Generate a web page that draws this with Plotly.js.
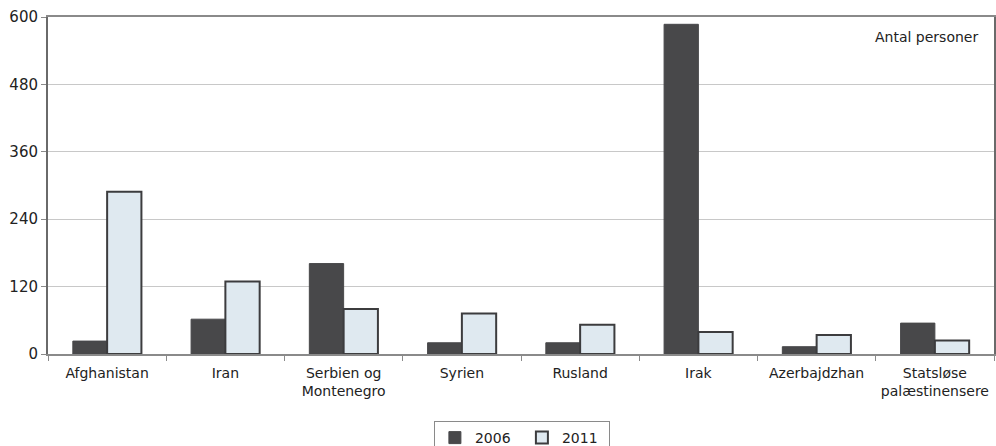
<!DOCTYPE html>
<html>
<head>
<meta charset="utf-8">
<script src="https://cdn.plot.ly/plotly-3.0.1.min.js"></script>
<style>html,body{margin:0;padding:0;background:#fff;}#chart{width:996px;height:446px;}</style>
</head>
<body>
<div id="chart"></div>
<script>
const categories = ["Afghanistan", "Iran", "Serbien og<br>Montenegro", "Syrien", "Rusland", "Irak", "Azerbajdzhan", "Statsløse<br>palæstinensere"];
const values2006 = [23, 62, 161, 20, 20, 587, 13, 55];
const values2011 = [289, 129, 80, 72, 52, 39, 34, 24];
const yTicks = [0, 120, 240, 360, 480, 600];

const FONT = "DejaVu Sans, Verdana, sans-serif";

const traces = [
  {type: "bar", name: "2006", x: categories, y: values2006,
   marker: {color: "#48484a", line: {color: "#48484a", width: 1}}},
  {type: "bar", name: "2011", x: categories, y: values2011,
   marker: {color: "#dfe9f0", line: {color: "#3c3c3e", width: 2}}}
];

const layout = {
  width: 996, height: 446,
  margin: {l: 48, r: 2, t: 17, b: 92, autoexpand: false},
  paper_bgcolor: "#fff", plot_bgcolor: "#fff",
  font: {family: FONT, size: 14, color: "#222"},
  bargap: 0.42, bargroupgap: 0,
  showlegend: true,
  legend: {orientation: "h", x: 0.524, xanchor: "center", xref: "container",
           y: 0.056, yanchor: "top", yref: "container",
           bordercolor: "#8a8a8a", borderwidth: 1, font: {size: 14, family: FONT},
           itemwidth: 30, entrywidth: 42, tracegroupgap: 0},
  xaxis: {type: "category", tickson: "boundaries", ticks: "outside", ticklen: 5,
          automargin: false, ticklabelstandoff: 5,
          tickcolor: "#8a8a8a", showline: true, linecolor: "#8a8a8a", linewidth: 2,
          mirror: true, showgrid: false, tickfont: {size: 14, family: FONT, color: "#222"}},
  yaxis: {range: [0, 600], tickvals: yTicks, ticks: "outside", ticklen: 5,
          automargin: false,
          tickcolor: "#8a8a8a", showline: true, linecolor: "#6a6a6a", linewidth: 2,
          mirror: true, showgrid: true, gridcolor: "#c8c8c8", gridwidth: 1,
          zeroline: false, tickfont: {size: 15, family: FONT, color: "#222"}},
  annotations: [{text: "Antal personer", xref: "paper", yref: "paper", x: 0.985, y: 0.94,
                 xanchor: "right", yanchor: "middle", showarrow: false,
                 font: {size: 14, family: FONT, color: "#222"}}]
};

Plotly.newPlot("chart", traces, layout, {displayModeBar: false, staticPlot: true});
</script>
</body>
</html>
